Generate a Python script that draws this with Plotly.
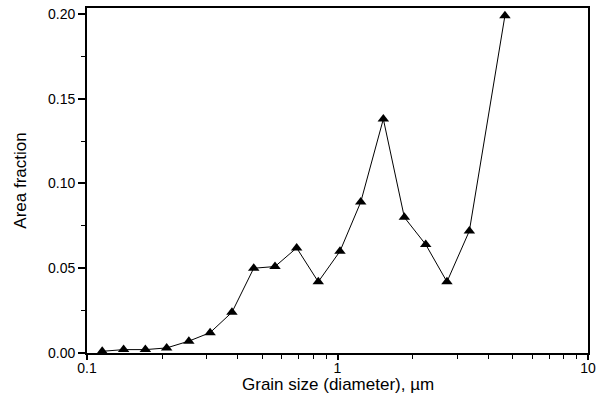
import plotly.graph_objects as go

grain_size = [0.115, 0.140, 0.171, 0.208, 0.255, 0.310, 0.379, 0.463, 0.563, 0.687,
              0.838, 1.023, 1.238, 1.524, 1.849, 2.25, 2.735, 3.36, 4.66]
area_fraction = [0.001, 0.002, 0.002, 0.003, 0.007, 0.012, 0.024, 0.050, 0.051, 0.062,
                 0.042, 0.060, 0.089, 0.138, 0.080, 0.064, 0.042, 0.072, 0.199]

x_tickvals = [0.1, 1, 10]
x_ticktext = ["0.1", "1", "10"]
x_minor = [m * d for d in (0.1, 1) for m in range(2, 10)]
y_tickvals = [0.0, 0.05, 0.10, 0.15, 0.20]
y_right_ticks = [0.025, 0.05, 0.075, 0.10, 0.125, 0.15, 0.175]

FONT = "Liberation Sans, Arial, sans-serif"

fig = go.Figure()
fig.add_trace(go.Scatter(
    x=grain_size, y=area_fraction, mode="lines+markers",
    line=dict(color="black", width=1),
    marker=dict(symbol="triangle-up", size=10, color="black"),
    showlegend=False, hoverinfo="skip",
))

fig.update_layout(
    width=605, height=405,
    margin=dict(l=87, r=17, t=8, b=52),
    paper_bgcolor="white", plot_bgcolor="white",
    font=dict(family=FONT, color="black", size=14),
    annotations=[dict(
        text="Grain size (diameter), µm", xref="paper", yref="paper",
        x=0.5, y=0, xanchor="center", yanchor="top", yshift=-20,
        showarrow=False, font=dict(size=17),
    )],
    yaxis2=dict(
        overlaying="y", side="right", range=[0, 0.2035], automargin=False,
        tickvals=y_right_ticks, ticks="inside", ticklen=3, tickwidth=1,
        tickcolor="#555", showticklabels=False, showgrid=False, zeroline=False,
        showline=False,
    ),
)
fig.update_xaxes(
    type="log", range=[-1, 1], automargin=False,
    tickvals=x_tickvals, ticktext=x_ticktext,
    ticks="outside", ticklen=5, tickwidth=1.5, tickcolor="black",
    ticklabelstandoff=-4,
    minor=dict(tickvals=x_minor, ticks="outside", ticklen=4, tickwidth=1, tickcolor="black"),
    showline=True, linecolor="black", linewidth=1.8, mirror=True,
    showgrid=False, zeroline=False,
    tickfont=dict(size=14),
)
fig.update_yaxes(
    selector=dict(overlaying=None),
    range=[0, 0.2035], automargin=False,
    tickvals=y_tickvals, tickformat=".2f",
    ticks="outside", ticklen=7, tickwidth=1.5, tickcolor="black",
    minor=dict(dtick=0.025, ticks="outside", ticklen=4, tickwidth=1, tickcolor="black"),
    showline=True, linecolor="black", linewidth=1.8, mirror=True,
    showgrid=False, zeroline=False,
    tickfont=dict(size=14),
    title=dict(text="Area fraction", font=dict(size=17), standoff=17),
)

fig.write_html("out.html", config={"displayModeBar": False},
               post_script="document.body.style.margin='0';")
